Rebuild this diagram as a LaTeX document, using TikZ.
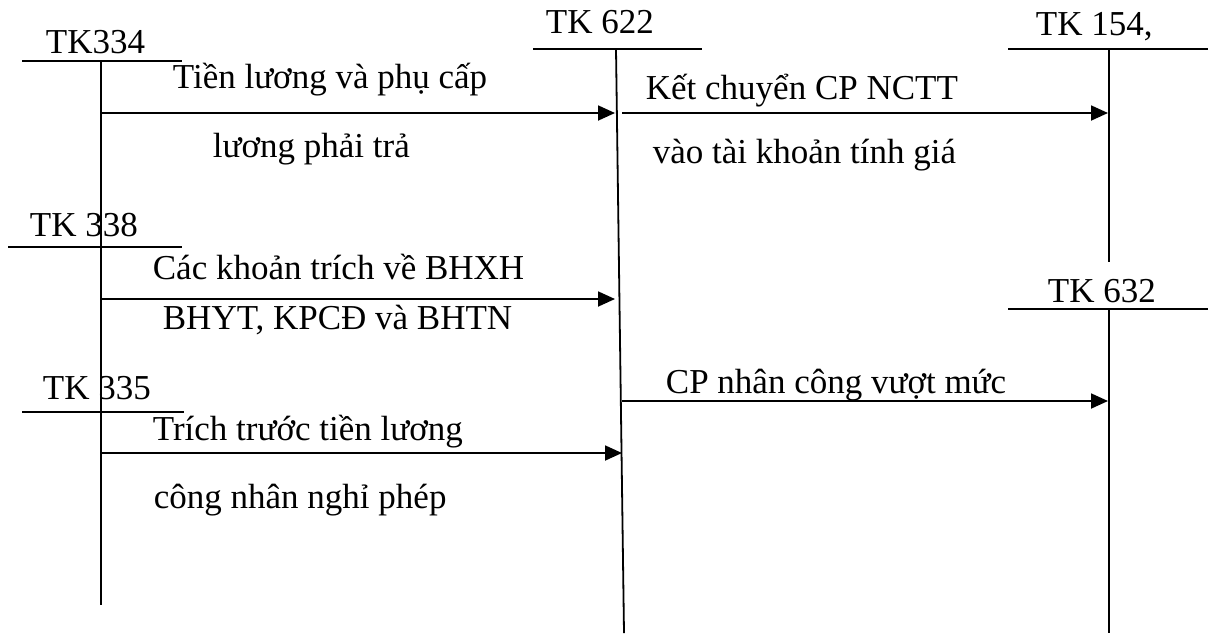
\documentclass[tikz,border=0pt]{standalone}
\usepackage{fontspec}
\setmainfont{Liberation Serif}
\usetikzlibrary{arrows.meta}
\begin{document}
\begin{tikzpicture}[x=1pt,y=-1pt,line width=1.8pt,
  lbl/.style={anchor=base west,inner sep=0pt,font=\fontsize{35}{40}\selectfont},
  arr/.style={-{Triangle[length=17pt,width=15pt]}}]
\useasboundingbox (0,0) rectangle (1215,633);
% account labels
\node[lbl] (n334) at (45,53) {TK334};
\node[lbl] (n622) at (545,33) {TK 622};
\node[lbl] (n154) at (1035,35) {TK 154,};
\node[lbl] (n338) at (29,236) {TK 338};
\node[lbl] (n335) at (42,399) {TK 335};
\node[lbl] (n632) at (1047,302) {TK 632};
% T-account lines
\draw (22,61) -- (182,61);
\draw (101,61) -- (101,605);
\draw (8,247) -- (182,247);
\draw (22,412) -- (184,412);
\draw (533,49) -- (702,49);
\draw (616,49) -- (624,633);
\draw (1008,49) -- (1208,49);
\draw (1109,49) -- (1109,262);
\draw (1008,309) -- (1208,309);
\draw (1109,309) -- (1109,633);
% arrow end points
\coordinate (s1) at (101,113); \coordinate (e1) at (615,113);
\coordinate (s2) at (622,113); \coordinate (e2) at (1108,113);
\coordinate (s3) at (101,299); \coordinate (e3) at (615,299);
\coordinate (s4) at (622,401); \coordinate (e4) at (1108,401);
\coordinate (s5) at (101,453); \coordinate (e5) at (622,453);
\draw[arr] (s1) -- (e1);
\draw[arr] (s2) -- (e2);
\draw[arr] (s3) -- (e3);
\draw[arr] (s4) -- (e4);
\draw[arr] (s5) -- (e5);
% texts
\node[lbl] (l1a) at (172,88) {Tiền lương và phụ cấp};
\node[lbl] (l1b) at (212,157) {lương phải trả};
\node[lbl] (l2a) at (645,99) {Kết chuyển CP NCTT};
\node[lbl] (l2b) at (652,163) {vào tài khoản tính giá};
\node[lbl] (l3a) at (152,279) {Các khoản trích về BHXH};
\node[lbl] (l3b) at (162,329) {BHYT, KPCĐ và BHTN};
\node[lbl] (l4) at (665,393) {CP nhân công vượt mức};
\node[lbl] (l5a) at (152,440) {Trích trước tiền lương};
\node[lbl] (l5b) at (153,508) {công nhân nghỉ phép};
\end{tikzpicture}
\end{document}
